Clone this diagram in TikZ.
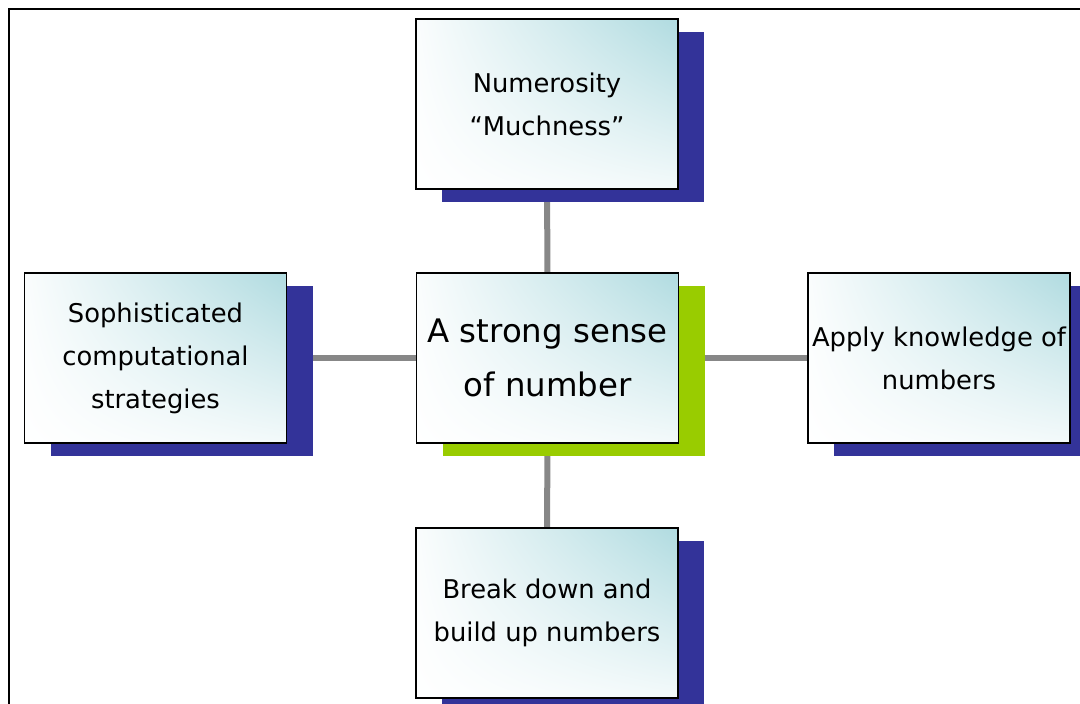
\documentclass[tikz,border=0pt]{standalone}
\usepackage{fontspec}
\setmainfont{DejaVu Sans}
\usetikzlibrary{shadows,backgrounds,shadings}
\definecolor{shblue}{HTML}{333399}
\definecolor{shgreen}{HTML}{99CC00}
\definecolor{tealc}{RGB}{176,219,224}
\definecolor{connc}{RGB}{135,135,135}
\begin{document}
\begin{tikzpicture}[x=1pt,y=-1pt,
  box/.style={draw=black, line width=1.6pt, minimum width=262pt, minimum height=170pt,
    inner sep=0pt, align=center, shade, upper right=tealc, upper left=white!94!tealc,
    lower left=white, lower right=white!85!tealc,
    font=\fontsize{25.8}{43}\selectfont},
  blueshadow/.style={drop shadow={shadow xshift=26pt, shadow yshift=-13pt, fill=shblue, opacity=1}},
  greenshadow/.style={drop shadow={shadow xshift=26pt, shadow yshift=-13pt, fill=shgreen, opacity=1}},
  conn/.style={draw=connc, line width=6pt}]
\useasboundingbox (0,0) rectangle (1080,704);
\draw[line width=2pt] (9,720) -- (9,9) -- (1090,9);
\node[box, blueshadow] (t) at (547,104) {Numerosity\\“Muchness”};
\node[box, greenshadow, font=\fontsize{32.4}{54}\selectfont] (c) at (547.5,358) {A strong sense\\of number};
\node[box, blueshadow] (l) at (155.5,358) {Sophisticated\\computational\\strategies};
\node[box, blueshadow] (r) at (939,358) {Apply knowledge of\\numbers};
\node[box, blueshadow] (b) at (547,613) {Break down and\\build up numbers};
\begin{pgfonlayer}{background}
\draw[conn] (t) -- (c);
\draw[conn] (c) -- (b);
\draw[conn] (l) -- (c);
\draw[conn] (c) -- (r);
\end{pgfonlayer}
\end{tikzpicture}
\end{document}
